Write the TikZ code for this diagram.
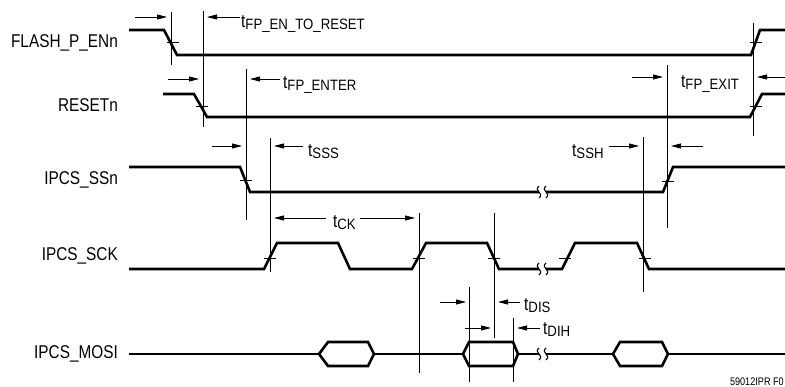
\documentclass[tikz,border=0pt]{standalone}
\usepackage{fontspec}
\setmainfont{Liberation Sans}[FakeStretch=0.83]
\newfontfamily\subfont{Liberation Sans}[FakeStretch=0.88]
\usetikzlibrary{arrows.meta}

\newcommand{\tsub}[1]{t{\subfont\fontsize{15}{15}\selectfont\raisebox{-2pt}{#1}}}

\begin{document}
\begin{tikzpicture}[x=1pt, y=-1pt,
		signal/.style={line width=2.6pt},
		guide/.style={line width=0.8pt},
		timing/.style={line width=0.8pt, -{Triangle[length=10pt,width=5pt]}},
		siglabel/.style={anchor=east, inner sep=0pt, font=\fontsize{18.5}{20}\selectfont},
		tlabel/.style={anchor=base west, inner sep=0pt, font=\fontsize{18.5}{20}\selectfont}]
	
	\useasboundingbox (0,0) rectangle (785,387);
	
	% Draw the signal names.
	\node[siglabel] (flash) at (118,43) {FLASH\_P\_ENn};
	\node[siglabel] (reset) at (118,105) {RESETn};
	\node[siglabel] (ssn) at (118,180) {IPCS\_SSn};
	\node[siglabel] (sck) at (118,256) {IPCS\_SCK};
	\node[siglabel] (mosi) at (118,354) {IPCS\_MOSI};
	
	% Draw the waveforms.
	\draw[signal] (129,30) -- (164,30) -- (177,55) -- (751,55) -- (760,30) -- (785,30);
	\draw[signal] (163,94) -- (194,94) -- (207,117) -- (750,117) -- (762,94) -- (785,94);
	\draw[signal] (129,167) -- (240,167) -- (250,192) -- (663,192) -- (673,167) -- (785,167);
	\draw[signal] (129,269) -- (264,269) -- (277,243) -- (338,243) -- (350,269) -- (412,269)
		-- (426,243) -- (487,243) -- (499,269) -- (562,269) -- (575,243) -- (637,243)
		-- (649,269) -- (785,269);
	\draw[signal] (129,354) -- (785,354);
	
	% Draw the data windows of IPCS_MOSI.
	\foreach \a/\b/\c/\d in {319/328/368/374, 463/469/513/518, 613/620/662/668}{
		\fill[white] (\a,354) -- (\b,342) -- (\c,342) -- (\d,354) -- (\c,366) -- (\b,366) -- cycle;
		\draw[signal] (\a,354) -- (\b,342) -- (\c,342) -- (\d,354) -- (\c,366) -- (\b,366) -- cycle;
	}
	
	% Draw the breaks in the time axis.
	\foreach \y in {192, 269, 354}{
		\fill[white] (539,\y-8) rectangle (546,\y+8);
		\draw[line width=1.1pt] (539,\y-6) .. controls (533,\y-1) and (545,\y+1) .. (539,\y+6);
		\draw[line width=1.1pt] (546,\y-6) .. controls (540,\y-1) and (552,\y+1) .. (546,\y+6);
	}
	
	% Draw the crossing marks.
	\foreach \x/\y in {173/42, 202/106, 756/42, 756/106, 246/180, 668/181,
		270/258, 419/258, 494/258, 565/258, 645/258}{
		\draw[guide] (\x-6,\y) -- (\x+6,\y);
	}
	
	% Draw the reference lines.
	\foreach \x/\ya/\yb in {171/12/65, 203/11/127, 246/69/220, 270/138/272, 419/213/373,
		494/213/338, 469/287/382, 513/318/382, 643/137/292, 667/65/228, 753/23/136}{
		\draw[guide] (\x,\ya) -- (\x,\yb);
	}
	
	% Draw the timing arrows.
	\foreach \xa/\xb/\y in {135/167/17, 240/207/17, 168/199/79, 280/250/79, 632/663/77,
		785/757/77, 212/242/146, 303/274/146, 609/639/146, 703/671/146, 326/274/218,
		360/415/218, 440/466/302, 520/498/302, 465/491/328, 540/517/328}{
		\draw[timing] (\xa,\y) -- (\xb,\y);
	}
	
	% Draw the timing names.
	\node[tlabel] (tfpen) at (241,28) {\tsub{FP\_EN\_TO\_RESET}};
	\node[tlabel] (tfpenter) at (283,89) {\tsub{FP\_ENTER}};
	\node[tlabel] (tfpexit) at (681,88) {\tsub{FP\_EXIT}};
	\node[tlabel] (tsss) at (308,157) {\tsub{SSS}};
	\node[tlabel] (tssh) at (572,157) {\tsub{SSH}};
	\node[tlabel] (tck) at (333,228) {\tsub{CK}};
	\node[tlabel] (tdis) at (524,311) {\tsub{DIS}};
	\node[tlabel] (tdih) at (543,335) {\tsub{DIH}};
	
	% Draw the figure number.
	\node[anchor=base east, inner sep=0pt, font=\fontsize{11}{12}\selectfont] (fig) at (784,385) {59012IPR F0};
	
\end{tikzpicture}
\end{document}
